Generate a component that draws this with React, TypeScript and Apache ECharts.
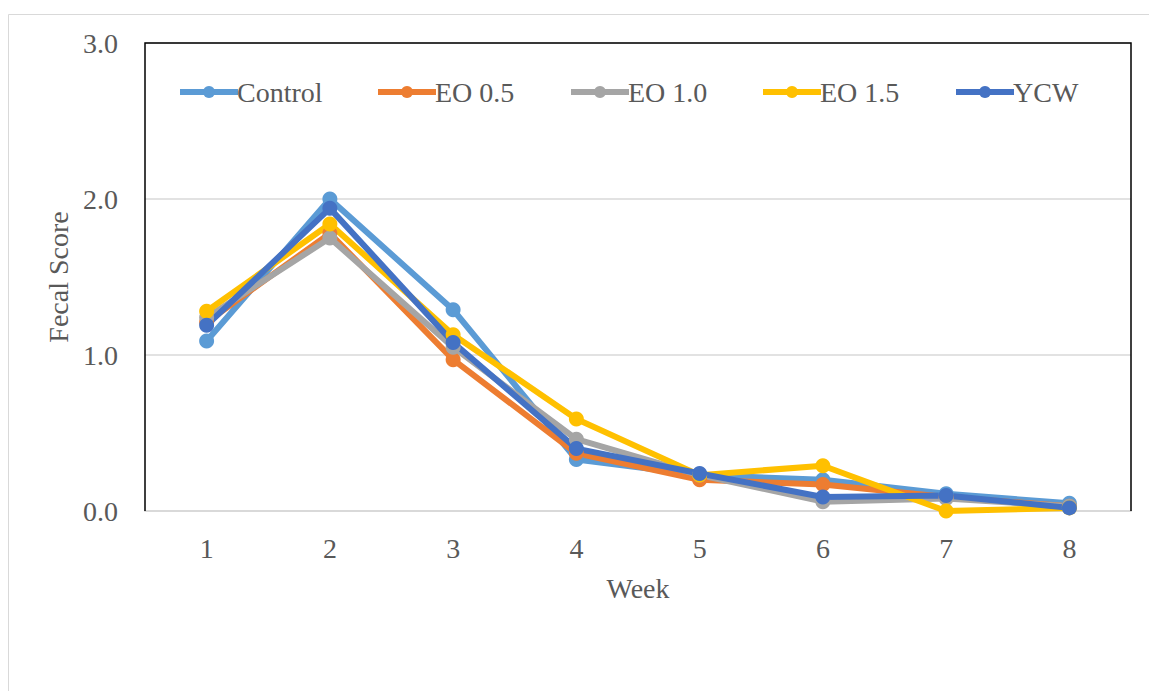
import React, { useEffect, useRef } from "react";
import * as echarts from "echarts";

const weeks = ["1", "2", "3", "4", "5", "6", "7", "8"];
const control = [1.09, 2.0, 1.29, 0.33, 0.23, 0.2, 0.11, 0.05];
const eo05 = [1.21, 1.78, 0.97, 0.37, 0.2, 0.17, 0.09, 0.03];
const eo10 = [1.24, 1.75, 1.05, 0.46, 0.23, 0.06, 0.08, 0.03];
const eo15 = [1.28, 1.84, 1.13, 0.59, 0.23, 0.29, 0.0, 0.02];
const ycw = [1.19, 1.94, 1.08, 0.4, 0.24, 0.09, 0.1, 0.02];

const seriesNames = ["Control", "EO 0.5", "EO 1.0", "EO 1.5", "YCW"];
const seriesData = [control, eo05, eo10, eo15, ycw];
const seriesColors = ["#5B9BD5", "#ED7D31", "#A5A5A5", "#FFC000", "#4472C4"];

// left edge of each legend entry's line icon
const legendLefts = [177, 375, 568, 760, 953];

const FONT = "Liberation Serif";
const TEXT = "#595959";
const FS = 28;

export default function App() {
  const ref = useRef<HTMLDivElement>(null);

  useEffect(() => {
    if (!ref.current) return;
    const chart = echarts.init(ref.current, null, { renderer: "svg" });
    const left = 145;
    const top = 43;
    const right = 1131;
    const bottom = 511;
    const legendY = 92;
    const iconW = 58;

    const legends = seriesNames.map((name, i) => ({
      id: "lg" + i,
      top: legendY - 7.5,
      left: legendLefts[i],
      padding: 0,
      itemWidth: iconW,
      itemHeight: 15,
      lineStyle: { width: 6 },
      formatter: () => "",
      textStyle: { fontSize: 1 },
      selectedMode: false,
      data: [name],
    }));

    const legendTexts = seriesNames.map((name, i) => ({
      type: "text",
      x: legendLefts[i] + iconW + 2,
      y: legendY,
      silent: true,
      style: {
        text: name,
        fontFamily: FONT,
        fontSize: FS,
        fill: TEXT,
        verticalAlign: "middle",
        align: "left",
      },
      z: 5,
    }));

    chart.setOption({
      animation: false,
      backgroundColor: "#fff",
      textStyle: { fontFamily: FONT },
      graphic: [
        {
          type: "rect",
          shape: { x: 8.5, y: 14.5, width: 1300, height: 900 },
          style: { fill: "none", stroke: "#d9d9d9", lineWidth: 1 },
          silent: true,
          z: 0,
        },
        {
          type: "polyline",
          shape: {
            points: [
              [left, bottom],
              [left, top],
              [right, top],
              [right, bottom],
            ],
          },
          style: { stroke: "#000", lineWidth: 1.5, fill: "none" },
          silent: true,
          z: 1,
        },
        ...legendTexts,
      ],
      grid: {
        left,
        top,
        width: right - left,
        height: bottom - top,
        containLabel: false,
      },
      legend: legends,
      xAxis: {
        type: "category",
        data: weeks,
        boundaryGap: true,
        name: "Week",
        nameLocation: "middle",
        nameGap: 63,
        nameTextStyle: { fontFamily: FONT, fontSize: FS, color: TEXT },
        axisLine: { show: true, lineStyle: { color: "#d9d9d9", width: 2 } },
        axisTick: { show: false },
        axisLabel: { fontFamily: FONT, fontSize: FS, color: TEXT, margin: 23 },
      },
      yAxis: {
        type: "value",
        min: 0,
        max: 3,
        interval: 1,
        name: "Fecal Score",
        nameLocation: "middle",
        nameGap: 70,
        nameTextStyle: { fontFamily: FONT, fontSize: FS, color: TEXT },
        axisLine: { show: false },
        axisTick: { show: false },
        splitLine: { show: true, lineStyle: { color: "#d9d9d9", width: 1.5 } },
        axisLabel: {
          fontFamily: FONT,
          fontSize: FS,
          color: TEXT,
          margin: 27,
          formatter: (v: number) => v.toFixed(1),
        },
      },
      series: seriesNames.map((name, i) => ({
        name,
        type: "line",
        data: seriesData[i],
        symbol: "circle",
        symbolSize: 15,
        color: seriesColors[i],
        lineStyle: { width: 6, color: seriesColors[i] },
        itemStyle: { color: seriesColors[i] },
        z: 3,
      })),
    });
    return () => chart.dispose();
  }, []);

  return (
    <div
      ref={ref}
      style={{ position: "fixed", left: 0, top: 0, width: 1149, height: 691, background: "#fff" }}
    />
  );
}
